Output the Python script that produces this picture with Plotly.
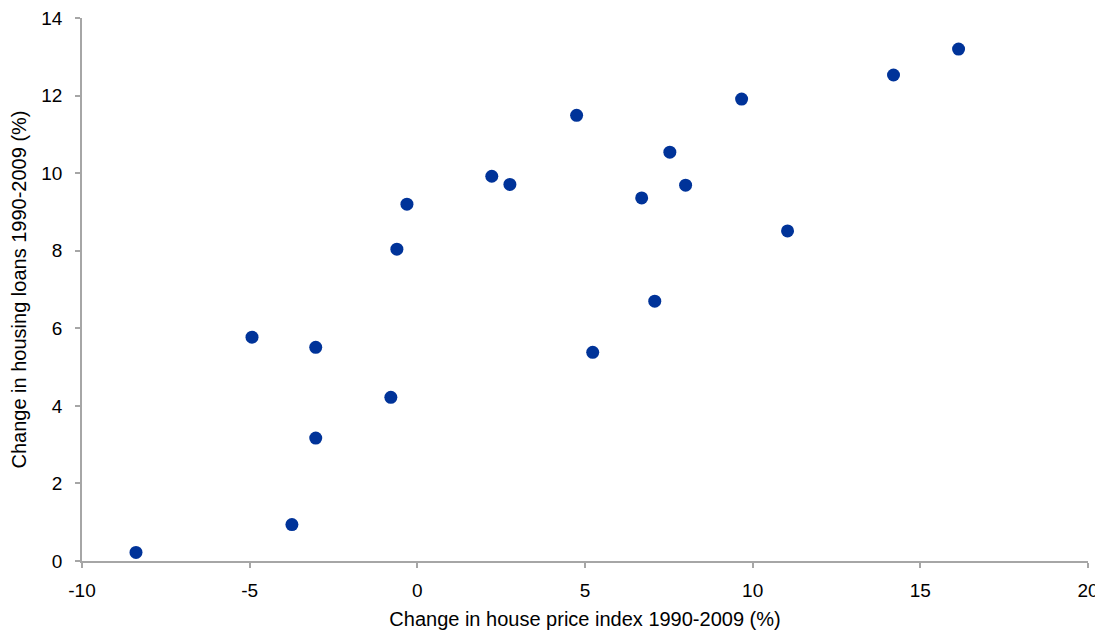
import plotly.graph_objects as go

house_price_change = [-8.39, -4.93, -3.03, -3.03, -3.74, -0.79, -0.61, -0.31, 2.22, 2.76,
                      4.75, 5.23, 6.69, 7.08, 7.53, 8.00, 9.67, 11.04, 14.20, 16.14]
housing_loans_change = [0.22, 5.77, 5.51, 3.17, 0.94, 4.22, 8.04, 9.20, 9.92, 9.71,
                        11.49, 5.38, 9.36, 6.70, 10.54, 9.69, 11.91, 8.51, 12.53, 13.20]

x_ticks = [-10, -5, 0, 5, 10, 15, 20]
x_tick_labels = ["-10", "-5", "0", "5", "10", "15", "20"]
y_ticks = [0, 2, 4, 6, 8, 10, 12, 14]
y_tick_labels = ["0", "2", "4", "6", "8", "10", "12", "14"]

fig = go.Figure(go.Scatter(
    x=house_price_change, y=housing_loans_change, mode="markers",
    marker=dict(size=13, color="#003399"),
    showlegend=False,
))

tick_font = dict(family="Liberation Sans, Arial, sans-serif", size=19, color="#000000")
title_font = dict(family="Liberation Sans, Arial, sans-serif", size=20, color="#000000")
axis_common = dict(
    showgrid=False, zeroline=False, showline=True, linecolor="#a6a6a6", linewidth=1.5,
    ticks="outside", ticklen=5, tickcolor="#a6a6a6", tickwidth=1.5,
    tickfont=tick_font, title_font=title_font, automargin=False,
    ticklabeloverflow="allow",
)
# page body adds an 8px offset, so the figure is sized to fit the rest of the window
fig.update_layout(
    width=1095, height=623,
    margin=dict(l=74, r=15, t=10, b=70),
    plot_bgcolor="white", paper_bgcolor="white",
    font=tick_font,
    xaxis=dict(range=[-10, 20], tickvals=x_ticks, ticktext=x_tick_labels,
               ticklabelstandoff=6,
               title=dict(text="Change in house price index 1990-2009 (%)", standoff=12),
               **axis_common),
    yaxis=dict(range=[0, 14], tickvals=y_ticks, ticktext=y_tick_labels,
               ticklabelstandoff=9,
               title=dict(text="Change in housing loans 1990-2009 (%)", standoff=11),
               **axis_common),
)
fig.write_html("out.html")
